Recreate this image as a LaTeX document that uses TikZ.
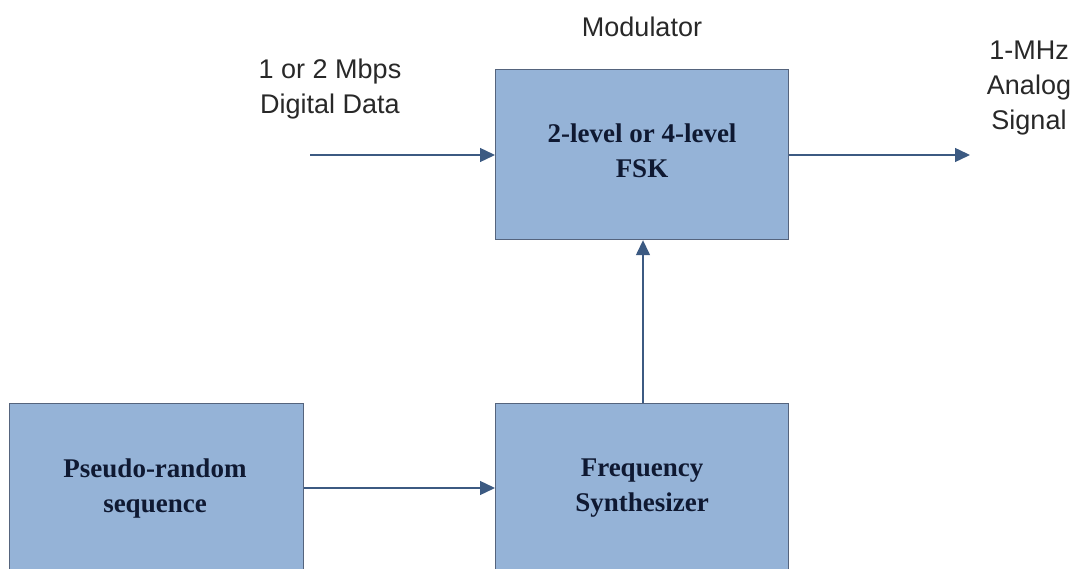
\documentclass[tikz,border=0pt]{standalone}
\usepackage{fontspec}
\setmainfont{Liberation Serif}
\setsansfont{Liberation Sans}
\usetikzlibrary{arrows.meta}
\definecolor{boxfill}{RGB}{149,179,215}
\definecolor{boxline}{RGB}{85,100,125}
\definecolor{arrowc}{RGB}{60,90,130}
\definecolor{boxtext}{RGB}{15,25,50}
\definecolor{labeltext}{RGB}{40,40,40}
\tikzset{
  block/.style={draw=boxline, line width=1.2pt, fill=boxfill, anchor=north west, inner sep=0pt},
  blocktext/.style={text=boxtext, font=\fontsize{27}{35}\selectfont\bfseries, align=center},
  lbl/.style={text=labeltext, font=\fontsize{27}{35}\sffamily, align=center},
  conn/.style={draw=arrowc, line width=1.4pt, -{Triangle[length=15pt,width=14pt]}}
}
\begin{document}
\begin{tikzpicture}[x=1pt,y=-1pt]
\useasboundingbox (0,0) rectangle (1079,569);
\clip (0,0) rectangle (1079,569);
% boxes
\node[block, minimum width=293pt, minimum height=170pt] (fsk) at (495,69) {};
\node[block, minimum width=294pt, minimum height=172pt] (prs) at (9,403) {};
\node[block, minimum width=293pt, minimum height=172pt] (fs) at (495,403) {};
% box texts
\node[blocktext] (fskt) at (642,151) {2-level or 4-level\\FSK};
\node[blocktext] (prst) at (155,489) {Pseudo-random\\sequence};
\node[blocktext] (fst) at (642,488) {Frequency\\Synthesizer};
% labels
\node[lbl] (mod) at (642,27) {Modulator};
\node[lbl] (dd) at (330,89) {1 or 2 Mbps\\Digital Data};
\node[lbl] (an) at (1029,88) {1-MHz\\Analog\\Signal};
% connector endpoints
\coordinate (din) at (310,155);
\coordinate (aout) at (970,155);
% connectors
\draw[conn] (din) -- (din -| fsk.west);
\draw[conn] (fsk.east |- aout) -- (aout);
\draw[conn] (prs.east |- 0,488) -- (fs.west |- 0,488);
\draw[conn] (fs.north -| 643,0) -- (fsk.south -| 643,0);
\end{tikzpicture}
\end{document}
